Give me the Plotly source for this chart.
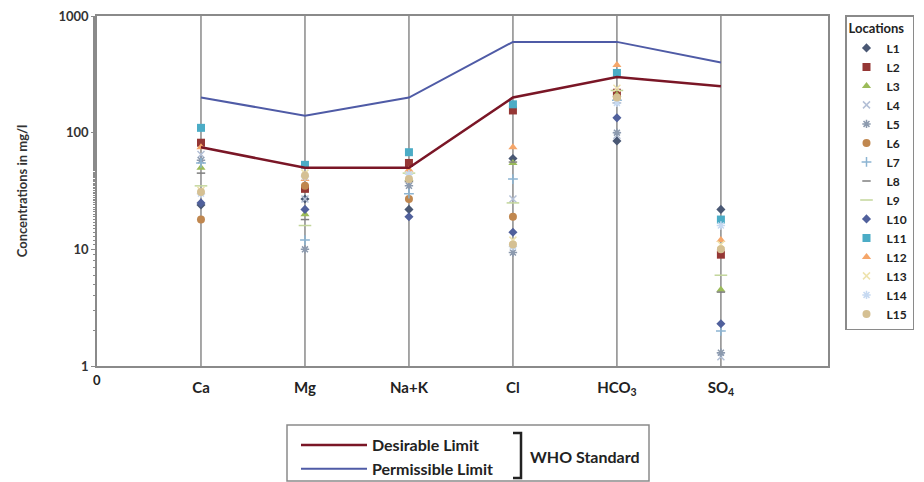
import plotly.graph_objects as go

ions = ["Ca", "Mg", "Na+K", "Cl", "HCO<sub>3</sub>", "SO<sub>4</sub>"]
ion_pos = [1, 2, 3, 4, 5, 6]

desirable = [75, 50, 50, 200, 300, 250]
permissible = [200, 140, 200, 600, 600, 400]

locations = ["L1", "L2", "L3", "L4", "L5", "L6", "L7", "L8", "L9", "L10",
             "L11", "L12", "L13", "L14", "L15"]
# values per location: Ca, Mg, Na+K, Cl, HCO3, SO4 (mg/l)
L1 = [24, 27, 22, 60, 85, 22]
L2 = [82, 33, 55, 155, 220, 9]
L3 = [50, 20, 40, 55, 210, 4.5]
L4 = [65, 27, 42, 27, 95, 1.2]
L5 = [58, 10, 35, 9.4, 100, 1.3]
L6 = [18, 35, 27, 19, 200, 0.95]
L7 = [55, 12, 30, 40, 190, 2]
L8 = [45, 18, 38, 56, 180, 4.3]
L9 = [35, 16, 45, 25, 230, 6]
L10 = [25, 22, 19, 14, 134, 2.3]
L11 = [110, 53, 68, 175, 325, 18]
L12 = [75, 40, 48, 75, 380, 12]
L13 = [32, 45, 42, 12, 240, 11]
L14 = [30, 42, 44, 10.6, 180, 16]
L15 = [31, 43, 40, 11, 200, 10]
values = [L1, L2, L3, L4, L5, L6, L7, L8, L9, L10, L11, L12, L13, L14, L15]

symbols = ["diamond", "square", "triangle-up", "x-thin-open", "asterisk-open", "circle",
           "cross-thin-open", "line-ew-open", "line-ew-open", "diamond", "square",
           "triangle-up", "x-thin-open", "asterisk-open", "circle"]
colors = ["#4A5874", "#953735", "#9BBB59", "#B4C0D6", "#8C9AAE", "#C0874F",
          "#8CB4D2", "#7F7F7F", "#C3D69B", "#50609C", "#4BACC6", "#F5A66A",
          "#EEE3AE", "#C6D9F1", "#D5C093"]
sizes = [7, 8, 8, 7, 7, 8, 7, 6, 9, 7, 8, 8, 7, 7, 8]

fig = go.Figure()

# vertical category lines
for xp in ion_pos:
    fig.add_vline(x=xp, line=dict(color="#8A8A8A", width=1.5), layer="below")

for name, vals, sym, col, sz in zip(locations, values, symbols, colors, sizes):
    fig.add_trace(go.Scatter(
        x=ion_pos, y=vals, mode="markers", name=name,
        marker=dict(symbol=sym, color=col, size=sz,
                    line=dict(color=col, width=1.5 if "open" in sym else 0)),
        legend="legend", cliponaxis=False))

fig.add_trace(go.Scatter(x=ion_pos, y=desirable, mode="lines", name="Desirable Limit",
                         line=dict(color="#7A1626", width=2.5), legend="legend2"))
fig.add_trace(go.Scatter(x=ion_pos, y=permissible, mode="lines", name="Permissible Limit",
                         line=dict(color="#4F5BA6", width=2), legend="legend2"))

W, H = 924, 482
L, R, T, B = 97, 96, 16, 116
PW, PH = W - L - R, H - T - B


def px(xpix):
    return (xpix - L) / PW


def py(ypix):
    return (H - B - ypix) / PH


font_family = "Lato"
fig.update_layout(
    width=W, height=H,
    margin=dict(l=L, r=R, t=T, b=B, autoexpand=False),
    paper_bgcolor="white", plot_bgcolor="white",
    font=dict(family=font_family, color="#333333", size=12),
    xaxis=dict(range=[0, 7.03], tickmode="array",
               tickvals=ion_pos, ticktext=ions,
               tickfont=dict(size=15, color="#222222", weight="bold"),
               showgrid=False, zeroline=False, showline=True, linecolor="#8A8A8A",
               linewidth=1.5, mirror=True, ticks="", ticklabelstandoff=7),
    yaxis=dict(type="log", range=[0, 3], tickvals=[1, 10, 100, 1000],
               ticktext=["1", "10", "100", "1000"],
               tickfont=dict(size=13, color="#333333", weight="bold"),
               showgrid=False, zeroline=False, showline=True, linecolor="#8A8A8A",
               linewidth=1.5, mirror=True, ticks="outside", ticklen=4, tickcolor="#8A8A8A",
               minor=dict(ticks="outside", ticklen=2, tickcolor="#8A8A8A"),
               title=dict(text="Concentrations in mg/l",
                          font=dict(size=13, color="#333333", weight="bold"), standoff=28)),
    legend=dict(x=px(845), xanchor="left", y=py(15), yanchor="top",
                title=dict(text="<b>Locations</b>", font=dict(size=13, color="#222222")),
                bordercolor="#8A8A8A", borderwidth=1.5, bgcolor="white",
                font=dict(size=12, color="#222222", weight="bold"),
                itemwidth=30, tracegroupgap=0, maxheight=460),
    legend2=dict(x=px(296), xanchor="left", y=py(428), yanchor="top",
                 font=dict(size=16, color="#222222", weight="bold"),
                 bgcolor="rgba(0,0,0,0)", itemwidth=66),
    showlegend=True,
)

# x-axis origin label
fig.add_annotation(xref="x", yref="paper", x=0, y=py(380), text="<b>0</b>",
                   showarrow=False, font=dict(size=13, color="#222222"),
                   xanchor="center", yanchor="middle")

# box around the bottom legend
fig.add_shape(type="rect", xref="paper", yref="paper",
              x0=px(287), x1=px(649), y0=py(481), y1=py(425),
              line=dict(color="#8A8A8A", width=1.5), fillcolor="rgba(0,0,0,0)")
# bracket grouping the two limits
fig.add_shape(type="path", xref="paper", yref="paper",
              path=f"M {px(513)},{py(433)} L {px(521)},{py(433)} L {px(521)},{py(478)} L {px(513)},{py(478)}",
              line=dict(color="#222222", width=2.5))
fig.add_annotation(xref="paper", yref="paper", x=px(528), y=py(456),
                   text="<b>WHO Standard</b>", showarrow=False,
                   font=dict(size=16, color="#222222"), xanchor="left", yanchor="middle")

fig.write_html("out.html", config={"displayModeBar": False},
               post_script="document.body.style.margin='0';document.body.style.padding='0';")
